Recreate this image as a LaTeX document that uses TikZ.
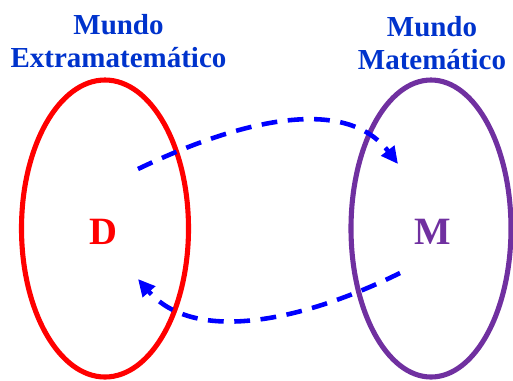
\documentclass[tikz,border=0pt]{standalone}
\usepackage{fontspec}
\setmainfont{Liberation Serif}
\usetikzlibrary{arrows.meta}
\definecolor{tblue}{HTML}{0033CC}
\definecolor{ablue}{HTML}{0000FF}
\definecolor{mpurple}{HTML}{7030A0}

\begin{document}
\begin{tikzpicture}[
  x=0.02cm, y=-0.02cm,
  title/.style={align=center, text=tblue, inner sep=0pt,
                font=\bfseries\fontsize{16.5}{18.7}\selectfont},
  letter/.style={inner sep=0pt, font=\bfseries\fontsize{22}{26}\selectfont},
  world/.style={line width=2.9pt},
  arr/.style={-{Triangle[length=3.4mm,width=3.2mm]}, draw=ablue,
              line width=2.6pt, dash pattern=on 9pt off 6pt}]
\useasboundingbox (0,0) rectangle (513,380);

% worlds
\draw[world, red] (105,228.5) ellipse [x radius=83.5, y radius=148.5];
\draw[world, mpurple] (431,228.5) ellipse [x radius=80, y radius=148.5];

% titles
\node[title] (tExtra) at (118.5,41) {Mundo\\Extramatemático};
\node[title] (tMat) at (432,43) {Mundo\\Matemático};

% letters
\node[letter, text=red] (D) at (103,232) {D};
\node[letter, text=mpurple] (M) at (433,232) {M};

% arrow ends
\coordinate (dOut) at (138,169);
\coordinate (mIn) at (398,164);
\coordinate (mOut) at (400,273);
\coordinate (dIn) at (138,279);

\draw[arr] (dOut) .. controls (240,120) and (345,95) .. (mIn);
\draw[arr] (mOut) .. controls (305,320) and (195,345) .. (dIn);
\end{tikzpicture}
\end{document}
